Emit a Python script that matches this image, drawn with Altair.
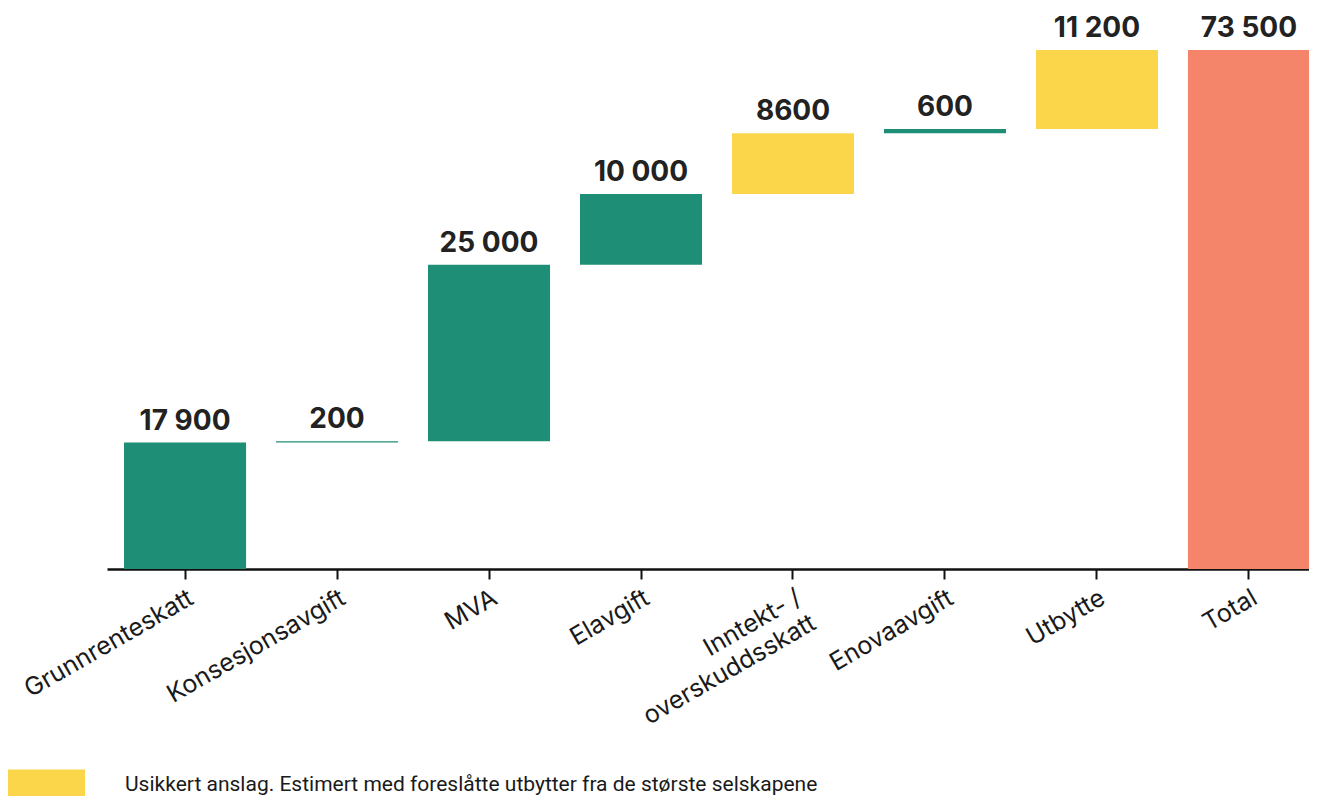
import altair as alt
import pandas as pd

categories = ["Grunnrenteskatt", "Konsesjonsavgift", "MVA", "Elavgift",
              "Inntekt- / overskuddsskatt", "Enovaavgift", "Utbytte", "Total"]
values = [17900, 200, 25000, 10000, 8600, 600, 11200, 73500]
value_labels = ["17 900", "200", "25 000", "10 000", "8600", "600", "11 200", "73 500"]
LONG = "Usikkert anslag. Estimert med foreslåtte utbytter fra de største selskapene"
kinds = ["sikker", "sikker", "sikker", "sikker", LONG, "sikker", LONG, "total"]

starts, ends = [], []
running = 0
for c, v in zip(categories, values):
    if c == "Total":
        starts.append(0)
        ends.append(v)
    else:
        starts.append(running)
        running += v
        ends.append(running)

df = pd.DataFrame({"cat": categories, "start": starts, "end": ends,
                   "label": value_labels, "kind": kinds})

x = alt.X("cat:N", sort=categories, title=None,
          scale=alt.Scale(range=[0, 1220], paddingInner=0.197, paddingOuter=0.112),
          axis=alt.Axis(labelExpr="datum.label == 'Inntekt- / overskuddsskatt' ? ['Inntekt- /', 'overskuddsskatt'] : datum.label",
                        labelAngle=-30, labelAlign="right", labelBaseline="top",
                        labelFont="Inter", labelFontSize=25, labelColor="#1a1a1a",
                        labelPadding=6, labelLineHeight=29, labelLimit=500,
                        labelOverlap=False,
                        domainColor="#111", domainWidth=2.5,
                        tickColor="#111", tickWidth=2, tickSize=10))

yscale = alt.Scale(domain=[0, 73500], nice=False, zero=True)

bars = alt.Chart(df).mark_bar(cornerRadius=0).encode(
    x=x,
    y=alt.Y("start:Q", scale=yscale, axis=None),
    y2="end:Q",
    color=alt.Color("kind:N",
                    scale=alt.Scale(domain=["sikker", LONG, "total"],
                                    range=["#1e8e76", "#fbd64b", "#f4846a"]),
                    legend=alt.Legend(values=[LONG], title=None, orient="none",
                                      legendX=-99, legendY=696, padding=0,
                                      symbolType="M-1,-0.39H1V0.39H-1Z",
                                      symbolSize=5929, symbolStrokeWidth=0,
                                      symbolOpacity=1,
                                      labelOffset=40, labelFont="Roboto",
                                      labelFontSize=21, labelColor="#1a1a1a",
                                      labelLimit=1000)),
)

texts = alt.Chart(df).mark_text(baseline="alphabetic", dy=-13, font="Inter",
                                fontSize=28, fontWeight="bold", color="#222").encode(
    x=alt.X("cat:N", sort=categories),
    y=alt.Y("end:Q", scale=yscale),
    text="label:N",
)

chart = alt.layer(bars, texts).properties(
    width=1202, height=519,
    autosize=alt.AutoSizeParams(type="none"),
    padding={"left": 99, "top": 42, "right": 0, "bottom": 227},
    background="white",
).configure_view(stroke=None)

chart.save("out.html", embed_options={"renderer": "svg", "actions": False})
